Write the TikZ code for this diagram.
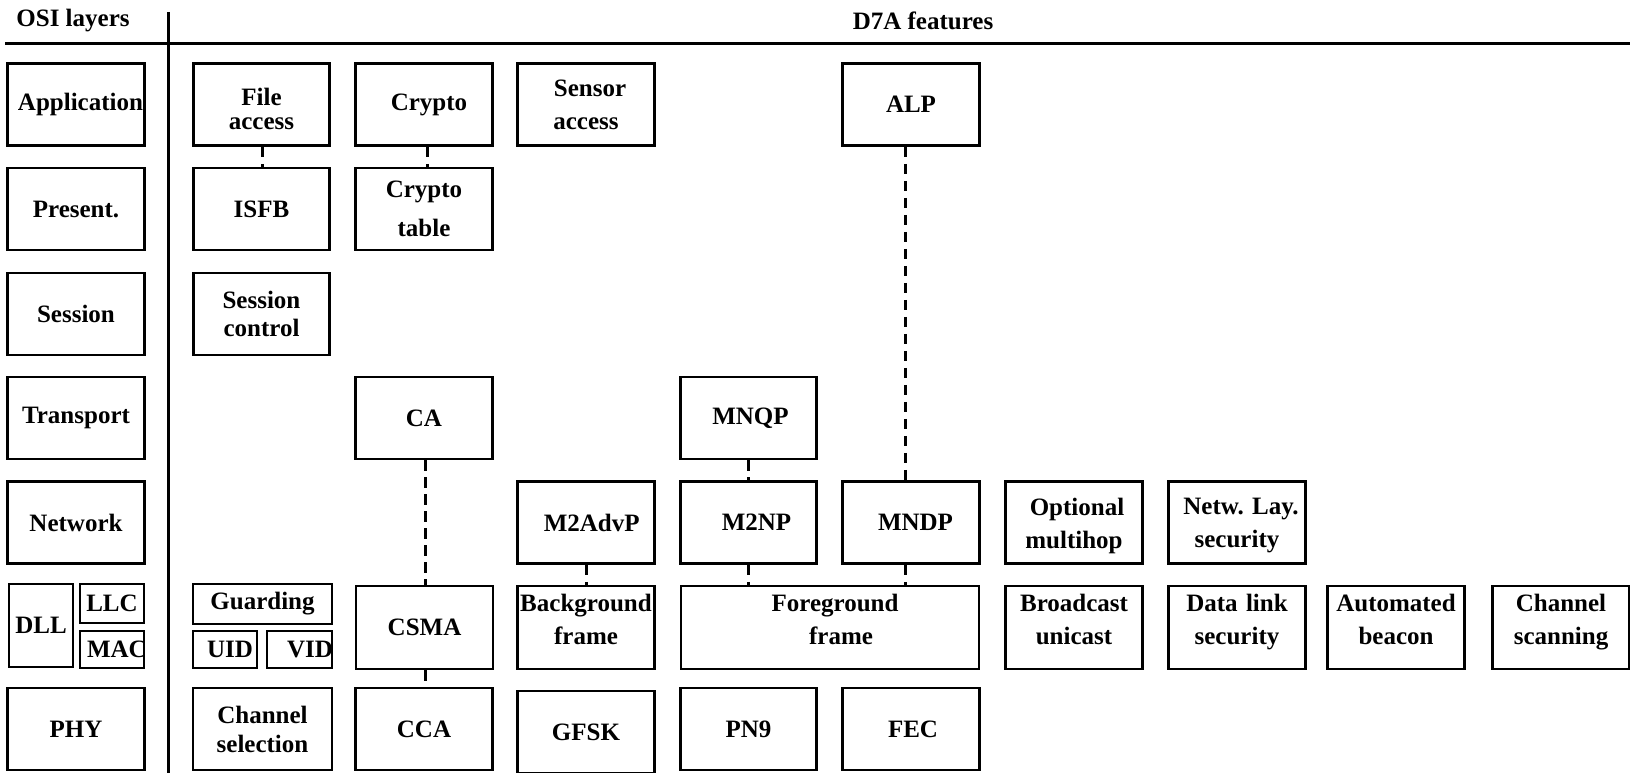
\documentclass[tikz,border=0pt]{standalone}
\usepackage{fontspec}
\setmainfont{Liberation Serif}
\begin{document}
\begin{tikzpicture}[x=1pt,y=-1pt,
  lbl/.style={font=\fontsize{25}{33}\selectfont\bfseries},
  box/.style={lbl, draw, line width=2.8pt, inner sep=0pt, align=center,
    text width=#1, minimum height=82pt},
  box/.default=136.5pt,
  tall/.style={minimum height=83pt},
  half/.style={minimum height=#1},
  lift/.style={text depth=49pt},
  sink/.style={text depth=32pt},
  tshift/.style={execute at begin node={\noindent\hspace*{#1}}},
  hdr/.style={lbl, inner sep=0pt},
  rule/.style={line width=2.4pt},
  conn/.style={line width=3pt, dash pattern=on 10.5pt off 6.5pt}]
\useasboundingbox (0,0) rectangle (1630,773);

% header and separating rules
\node[hdr] (osi) at (73,21) {OSI layers};
\node[hdr] (d7a) at (923,21) {D7A features};
\coordinate (hl) at (5,43.5);
\coordinate (hr) at (1630,43.5);
\coordinate (vt) at (168.5,12);
\coordinate (vb) at (168.5,773);
\draw[rule] (hl) -- (hr);
\draw[rule] (vt) -- (vb);

% OSI layer column
\node[box, tshift=9pt] (app) at (76,104.5) {Application};
\node[box] (pres) at (76,209) {Present.};
\node[box] (sess) at (76,314) {Session};
\node[box] (trans) at (76,418) {Transport};
\node[box] (net) at (76,522.5) {Network};
\node[box=64pt, tall] (dll) at (41,625.5) {DLL};
\node[box=64pt, half=39pt] (llc) at (112,603.5) {LLC};
\node[box=64pt, half=37pt, tshift=7pt] (mac) at (112,649.5) {MAC};
\node[box] (phy) at (76,729) {PHY};

% column 1
\node[box, text height=27pt] (file) at (261.5,104.5) {File\\[-9pt]access};
\node[box] (isfb) at (261.5,209) {ISFB};
\node[box] (sessctl) at (261.5,314) {Session\\[-5pt]control};
\node[box=139pt, half=40pt] (guard) at (262.5,604) {Guarding};
\node[box=64pt, half=37pt, tshift=10pt] (uid) at (225,649.5) {UID};
\node[box=65pt, half=37pt, tshift=20pt] (vid) at (299.5,649.5) {VID};
\node[box=139pt] (chsel) at (262.5,729) {Channel\\[-4pt]selection};

% column 2
\node[box, tshift=10pt] (crypto) at (424,104.5) {Crypto};
\node[box] (ctable) at (424,209) {Crypto\\[6pt]table};
\node[box] (ca) at (424,418) {CA};
\node[box=137pt, tall] (csma) at (424.5,627.5) {CSMA};
\node[box] (cca) at (424,729) {CCA};

% column 3
\node[box, tshift=8pt] (sensor) at (586,104.5) {Sensor\\access};
\node[box, tshift=11.5pt] (m2advp) at (586,522.5) {M2AdvP};
\node[box, tall, lift] (bgf) at (586,627.5) {Background\\frame};
\node[box] (gfsk) at (586,732) {GFSK};

% column 4 and the wide foreground frame
\node[box, tshift=4pt] (mnqp) at (748.5,418) {MNQP};
\node[box, tshift=16pt] (m2np) at (748.5,522.5) {M2NP};
\node[box=298pt, tall, lift] (fgf) at (830,627.5)
  {\hspace*{10pt}Foreground\\\hspace*{22pt}frame};
\node[box] (pn9) at (748.5,729) {PN9};

% column 5
\node[box] (alp) at (911,104.5) {ALP};
\node[box, tshift=9pt] (mndp) at (911,522.5) {MNDP};
\node[box, tshift=4pt] (fec) at (911,729) {FEC};

% columns 6 to 9
\node[box, tshift=6pt, sink] (optm) at (1074,522.5) {Optional\\multihop};
\node[box, tshift=8pt, sink] (nls) at (1237,522.5) {Netw.\ Lay.\\security};
\node[box, tall, lift] (bcast) at (1074,627.5) {Broadcast\\unicast};
\node[box, tall, lift] (dls) at (1237,627.5) {Data link\\security};
\node[box, tall, lift] (beacon) at (1396,627.5) {Automated\\beacon};
\node[box, tall, lift] (scan) at (1561,627.5) {Channel\\scanning};

% dashed dependencies between features
\draw[conn] ([xshift=0.5pt]file.south) -- ([xshift=0.5pt]isfb.north);
\draw[conn] ([xshift=3pt]crypto.south) -- ([xshift=3pt]ctable.north);
\draw[conn] ([xshift=-5.5pt]alp.south) -- ([xshift=-5.5pt]mndp.north);
\draw[conn] ([xshift=-5.5pt]mndp.south) -- ([xshift=-5.5pt]mndp.south |- fgf.north);
\draw[conn] ([xshift=1pt]ca.south) -- ([xshift=1pt]ca.south |- csma.north);
\draw[conn] ([xshift=0.5pt]csma.south) -- ([xshift=0.5pt]csma.south |- cca.north);
\draw[conn] (mnqp.south) -- (m2np.north);
\draw[conn] (m2np.south) -- (m2np.south |- fgf.north);
\draw[conn] (m2advp.south) -- (bgf.north);
\end{tikzpicture}
\end{document}
